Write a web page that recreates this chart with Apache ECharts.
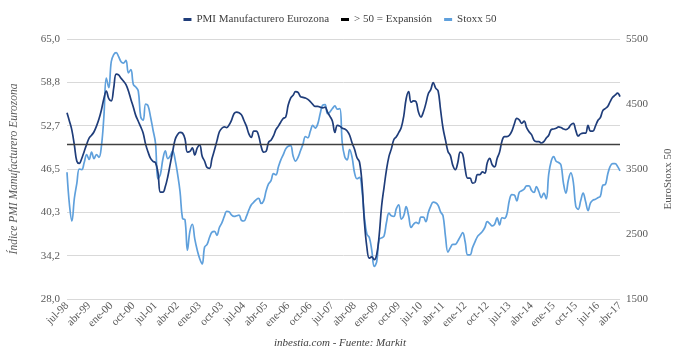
<!DOCTYPE html>
<html>
<head>
<meta charset="utf-8">
<script src="https://cdn.jsdelivr.net/npm/echarts@6/dist/echarts.min.js"></script>
<style>html,body{margin:0;padding:0;background:#fff}#c{width:680px;height:357px}</style>
</head>
<body>
<div id="c"></div>
<script>
// Month names (Spanish) and range: jul-98 .. abr-17
const monthNames = ['ene','feb','mar','abr','may','jun','jul','ago','sep','oct','nov','dic'];
const startYear = 1998, startMonth = 6; // July 1998 (0-based month)

// PMI Manufacturero Eurozona (left axis)
const pmi = [
54.5,53.3,52.0,49.9,47.6,47.3,48.0,49.0,50.0,50.9,51.3,51.8,52.6,53.6,54.9,56.5,57.6,56.5,56.2,58.0,
60.0,59.9,59.4,59.0,58.5,57.6,56.4,55.3,54.1,53.3,52.5,51.6,50.0,48.9,48.0,47.6,47.4,46.0,43.2,43.2,
44.0,45.4,47.2,49.0,50.7,51.4,51.7,51.6,50.8,48.9,49.0,49.5,48.5,49.5,49.9,48.3,47.6,46.7,
46.6,48.0,49.2,50.5,51.8,52.3,52.5,52.4,52.8,53.5,54.4,54.6,54.5,54.2,53.4,52.6,51.5,51.0,51.9,51.9,
51.2,49.7,48.9,49.0,50.3,50.6,51.2,52.1,52.6,53.2,53.7,53.9,55.6,56.6,57.0,57.5,57.4,56.8,56.7,56.6,
56.4,56.1,55.7,55.4,55.4,55.3,55.2,55.3,54.6,54.0,53.3,51.7,52.7,52.6,52.3,52.2,
51.9,51.3,50.2,49.3,48.1,47.5,44.6,39.0,35.4,33.8,34.0,33.6,34.3,37.0,41.2,43.9,46.4,48.3,49.4,50.7,
51.1,51.7,52.4,54.0,56.5,57.5,56.0,56.2,56.1,54.6,53.9,54.6,55.8,57.2,57.8,58.8,58.0,57.6,54.9,52.3,
50.6,49.0,48.4,47.0,46.4,47.4,48.9,48.6,46.5,45.2,45.2,44.5,44.6,45.7,45.7,46.1,45.9,
47.4,48.0,47.1,46.8,48.0,48.9,50.5,51.1,51.1,51.3,51.9,52.9,53.7,53.5,53.0,53.3,52.4,51.8,51.4,50.6,
50.4,50.4,50.2,50.4,50.9,51.3,52.1,52.2,52.3,52.5,52.4,52.2,52.1,52.3,52.8,53.0,52.0,51.2,51.5,51.6,
51.6,52.7,51.9,51.9,52.6,53.4,53.8,54.8,55.1,55.4,56.1,56.7,57.0,57.3,56.8
];

// Stoxx 50 (right axis)
const stoxx = [
3450,2950,2700,3050,3280,3500,3490,3600,3720,3646,3760,3660,3720,3680,3850,4300,4897,4750,5150,5260,
5290,5230,5150,5130,5170,4980,5030,4800,4760,4700,4300,4250,4500,4470,4300,4100,3900,3350,3420,3650,
3780,3660,3700,3780,3640,3420,3150,2740,2720,2250,2540,2650,2420,2250,2120,2040,2300,2340,
2450,2530,2540,2480,2600,2670,2770,2850,2840,2790,2770,2780,2790,2710,2700,2770,2870,2950,2990,3030,
3050,2970,3010,3160,3270,3320,3430,3410,3530,3640,3720,3810,3850,3860,3700,3620,3680,3780,3880,4000,
3980,4080,4170,4130,4190,4350,4480,4490,4350,4380,4430,4470,4420,4430,3900,3690,
3640,3800,3680,3440,3350,3370,3180,2760,2500,2445,2250,2000,2070,2420,2440,2470,2680,2820,2780,2770,
2890,2950,2730,2780,2920,2780,2600,2650,2680,2660,2760,2760,2690,2830,2930,2990,2980,2940,2840,2780,
2460,2220,2290,2340,2340,2390,2460,2520,2380,2180,2180,2290,2380,2460,2500,2540,2600,
2690,2660,2624,2650,2750,2640,2750,2740,2810,3020,3105,3100,3010,3140,3165,3190,3240,3240,3170,3140,
3230,3150,3060,3130,3040,3420,3620,3690,3620,3600,3560,3280,3130,3330,3440,3300,2930,2880,3010,3130,
3000,2860,2980,3022,3035,3058,3080,3250,3260,3420,3540,3584,3584,3540,3470
];

const expansionLevel = 50;

// Axis settings
const leftMin = 28, leftMax = 65;
const rightMin = 1500, rightMax = 5500, rightStep = 1000;

const categories = pmi.map((_, i) => {
  const m = (startMonth + i) % 12;
  const y = startYear + Math.floor((startMonth + i) / 12);
  return monthNames[m] + '-' + String(y % 100).padStart(2, '0');
});

const FONT = '"Liberation Serif", "DejaVu Serif", serif';
const chart = echarts.init(document.getElementById('c'), null, {renderer: 'canvas'});
chart.setOption({
  animation: false,
  textStyle: {fontFamily: FONT},
  legend: {
    top: 9, left: 'center',
    itemWidth: 8, itemHeight: 3, itemGap: 12,
    icon: 'rect',
    textStyle: {fontFamily: FONT, fontSize: 11, color: '#404040'},
    data: ['PMI Manufacturero Eurozona', '> 50 = Expansión', 'Stoxx 50']
  },
  title: {
    text: 'inbestia.com - Fuente: Markit',
    left: 'center', bottom: 3,
    textStyle: {fontFamily: FONT, fontSize: 11, fontStyle: 'italic', fontWeight: 'normal', color: '#404040'}
  },
  graphic: [{
    type: 'text', x: 668, y: 179, rotation: Math.PI / 2,
    style: {text: 'EuroStoxx 50', fontFamily: FONT, fontSize: 11, fill: '#595959',
      align: 'center', verticalAlign: 'middle'}
  }],
  grid: {left: 62, right: 60, top: 39, bottom: 58, containLabel: false},
  xAxis: {
    type: 'category', data: categories, boundaryGap: false,
    axisLine: {show: false}, axisTick: {show: false},
    axisLabel: {interval: 8, rotate: 45, fontFamily: FONT, fontSize: 11, color: '#595959', margin: 5},
    splitLine: {show: false}
  },
  yAxis: [{
    type: 'value', min: leftMin, max: leftMax, interval: (leftMax - leftMin) / 6,
    name: 'Índice PMI Manufacturero Eurozona', nameLocation: 'middle', nameGap: 47, nameRotate: 90,
    nameTextStyle: {fontFamily: FONT, fontSize: 11.5, fontStyle: 'italic', color: '#595959', padding: [0, 0, 0, 0]},
    axisLine: {show: false}, axisTick: {show: false},
    axisLabel: {fontFamily: FONT, fontSize: 11, color: '#595959', margin: 7,
      formatter: v => v.toFixed(1).replace('.', ',')},
    splitLine: {lineStyle: {color: '#d9d9d9', width: 1}}
  }, {
    type: 'value', min: rightMin, max: rightMax, interval: rightStep, position: 'right',
    axisLine: {show: false}, axisTick: {show: false},
    axisLabel: {fontFamily: FONT, fontSize: 11, color: '#595959', margin: 6,
      formatter: v => String(Math.round(v))},
    splitLine: {show: false}
  }],
  series: [{
    name: 'Stoxx 50', type: 'line', yAxisIndex: 1, data: stoxx,
    smooth: 0.4, showSymbol: false, symbol: 'none',
    lineStyle: {color: '#5fa0dc', width: 1.7}, itemStyle: {color: '#5fa0dc'}, z: 2
  }, {
    name: 'PMI Manufacturero Eurozona', type: 'line', yAxisIndex: 0, data: pmi,
    smooth: 0.4, showSymbol: false, symbol: 'none',
    lineStyle: {color: '#1f3d7a', width: 1.7}, itemStyle: {color: '#1f3d7a'}, z: 3
  }, {
    name: '> 50 = Expansión', type: 'line', yAxisIndex: 0, data: [],
    lineStyle: {color: '#000'}, itemStyle: {color: '#000'}, z: 4,
    markLine: {
      silent: true, symbol: 'none', label: {show: false},
      lineStyle: {color: '#404040', width: 1.3, type: 'solid'},
      data: [{yAxis: expansionLevel}]
    }
  }]
});
</script>
</body>
</html>
